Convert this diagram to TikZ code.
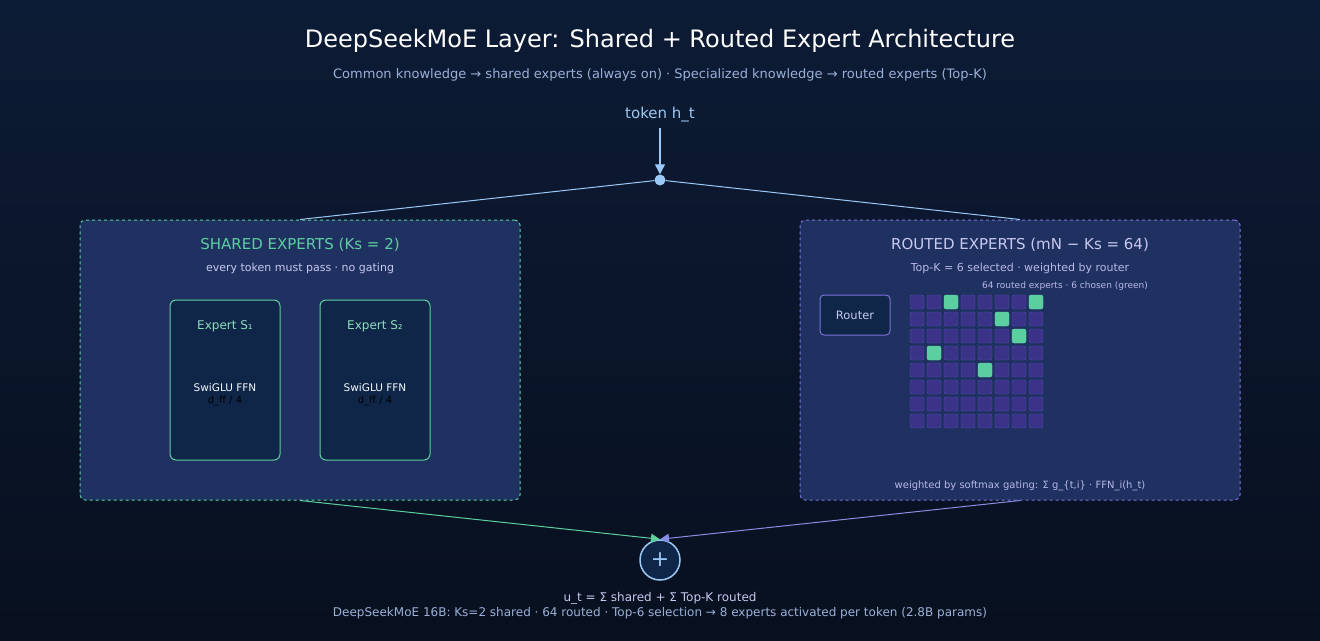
\documentclass[tikz,border=0pt]{standalone}
\usepackage{fontspec}
\setmainfont{DejaVu Sans}
\usetikzlibrary{arrows.meta}
\definecolor{bgtop}{HTML}{0C1B35}
\definecolor{bgbot}{HTML}{08101F}
\definecolor{panel}{HTML}{1F3160}
\definecolor{gr}{HTML}{5CCFA0}
\definecolor{pu}{HTML}{7F72DA}
\definecolor{lb}{HTML}{9CC8F5}
\definecolor{exf}{HTML}{0F2648}
\definecolor{cell}{HTML}{3A3388}
\definecolor{cellb}{HTML}{554CB0}
\definecolor{txt}{HTML}{9AB0D8}
\definecolor{lav}{HTML}{C8C8F0}
\begin{document}
\begin{tikzpicture}[x=1pt,y=-1pt,
  panelbox/.style={draw,dashed,fill=panel,rounded corners=5pt,line width=1pt},
  expert/.style={draw=gr,fill=exf,rounded corners=6pt,line width=1pt,minimum width=110pt,minimum height=160pt},
  cellst/.style={draw=cellb,fill=cell,rounded corners=2pt,minimum size=14pt,inner sep=0pt},
  green/.style={draw=gr,fill=gr}]
\shade[top color=bgtop,bottom color=bgbot] (0,0) rectangle (1320,640);
\useasboundingbox (0,0) rectangle (1320,640);
\node (title) at (660,41) {\fontsize{24}{28}\selectfont\color{white}DeepSeekMoE Layer: Shared + Routed Expert Architecture};
\node (sub) at (660,75) {\fontsize{13}{15}\selectfont\color{txt}Common knowledge → shared experts (always on) · Specialized knowledge → routed experts (Top-K)};
\node (tok) at (660,115) {\fontsize{15}{18}\selectfont\color{lb}token h\_t};
\coordinate (tokb) at (660,128);
\node[circle,fill=lb,inner sep=0pt,minimum size=11pt] (j) at (660,180) {};
\draw[lb,line width=1.2pt,-{Triangle[length=10pt,width=10pt]}] (tokb) -- (j.north);
% panels
\node[panelbox,draw=gr,minimum width=440pt,minimum height=280pt] (sp) at (300,360) {};
\node[panelbox,draw=pu,minimum width=440pt,minimum height=280pt] (rp) at (1020,360) {};
\draw[lb,line width=1pt] (j) -- (sp.north);
\draw[lb,line width=1pt] (j) -- (rp.north);
\node (st) at (300,245) {\fontsize{15}{18}\selectfont\color{gr}SHARED EXPERTS (Ks = 2)};
\node (ss) at (300,268) {\fontsize{11}{13}\selectfont\color{lav}every token must pass · no gating};
\foreach \n/\x/\s in {s1/225/₁,s2/375/₂}{
  \node[expert] (\n) at (\x,380) {};
  \node (\n t) at (\x,326) {\fontsize{12}{14}\selectfont\color{gr!70!white}Expert S\s};
  \node[align=center] (\n f) at (\x,395) {\fontsize{10.5}{22}\selectfont\color{white!90!lb}SwiGLU FFN\\d\_ff / 4};
}
\node (rt) at (1020,245) {\fontsize{15}{18}\selectfont\color{lav}ROUTED EXPERTS (mN − Ks = 64)};
\node (rs) at (1020,268) {\fontsize{11}{13}\selectfont\color{lav!80!pu}Top-K = 6 selected · weighted by router};
\node (rc) at (1065,286) {\fontsize{9}{11}\selectfont\color{lav!80!pu}64 routed experts · 6 chosen (green)};
\node[draw=pu,fill=exf,rounded corners=4pt,line width=1pt,minimum width=70pt,minimum height=40pt] (router) at (855,315) {\fontsize{11.5}{14}\selectfont\color{lav}Router};
\foreach \r in {0,...,7}{\foreach \c in {0,...,7}{
  \node[cellst] (c\r\c) at (917+17*\c,302+17*\r) {};}}
\foreach \r/\c in {0/2,0/7,1/5,2/6,3/1,4/4}{\node[cellst,green] at (917+17*\c,302+17*\r) {};}
\node (rw) at (1020,486) {\fontsize{10}{12}\selectfont\color{lav!80!pu}weighted by softmax gating: Σ g\_\{t,i\} · FFN\_i(h\_t)};
% sum
\node[circle,draw=lb,fill=exf,line width=1.5pt,minimum size=40pt,inner sep=0pt] (sum) at (660,560) {\fontsize{22}{24}\selectfont\color{lb}+};
\draw[gr,line width=1pt,-{Triangle[length=9pt,width=9pt]}] (sp.south) -- (sum.north);
\draw[pu!70!lb,line width=1pt,-{Triangle[length=9pt,width=9pt]}] (rp.south) -- (sum.north);
\node (u) at (660,598) {\fontsize{12}{14}\selectfont\color{lav}u\_t = Σ shared + Σ Top-K routed};
\node (foot) at (660,613) {\fontsize{12}{14}\selectfont\color{txt}DeepSeekMoE 16B: Ks=2 shared · 64 routed · Top-6 selection → 8 experts activated per token (2.8B params)};
\end{tikzpicture}
\end{document}
